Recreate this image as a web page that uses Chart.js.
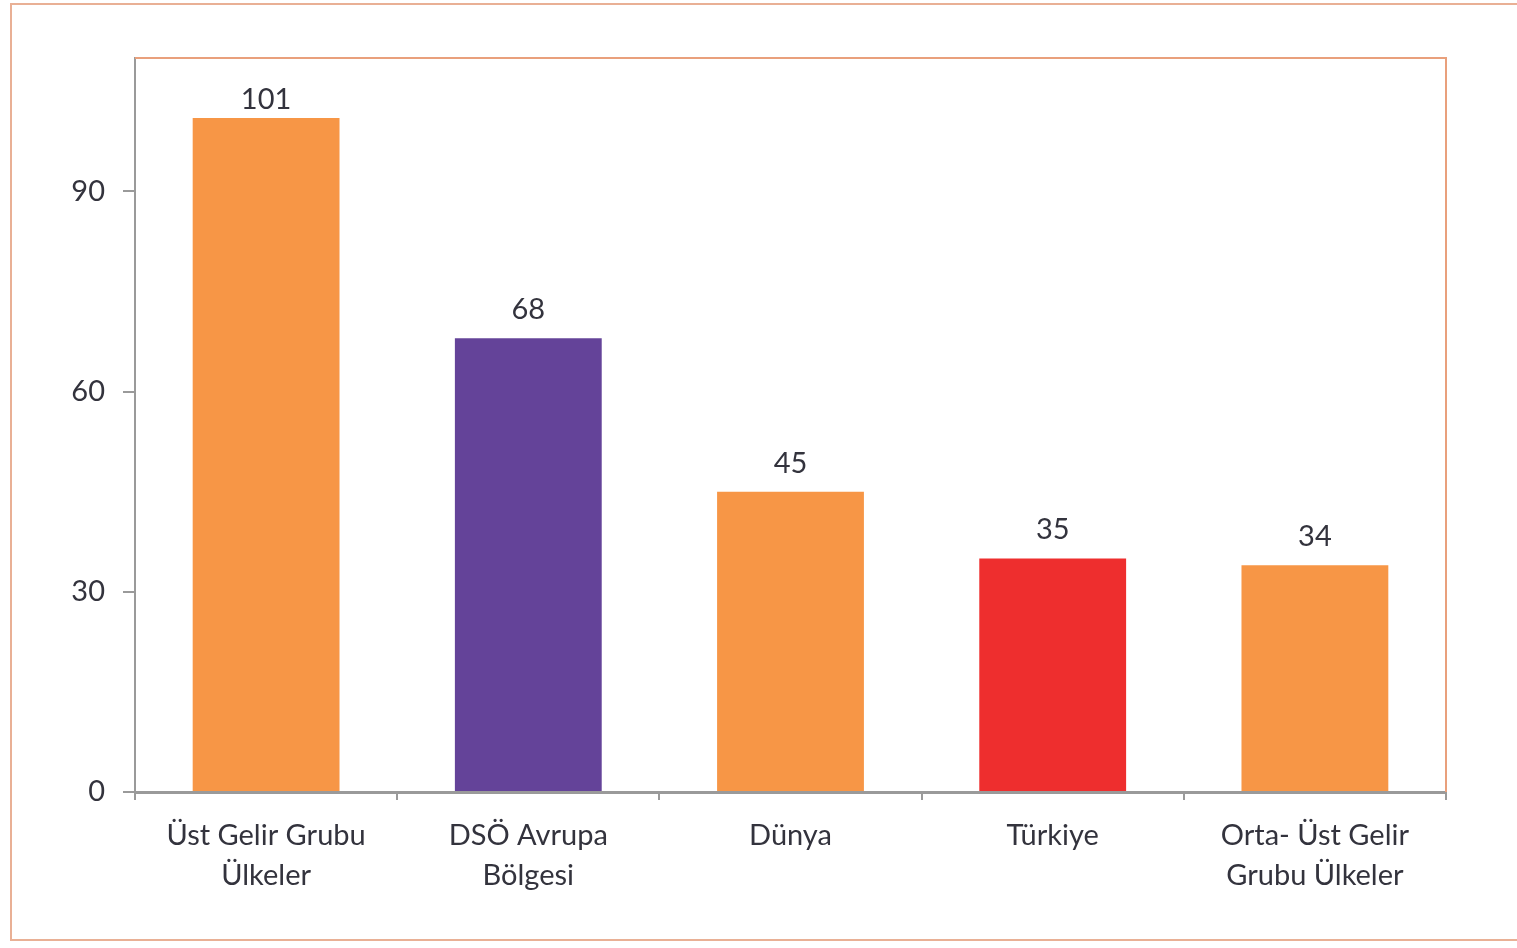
<!DOCTYPE html>
<html>
<head>
<meta charset="utf-8">
<script src="https://cdn.jsdelivr.net/npm/chart.js@4"></script>
<style>
  html, body { margin: 0; padding: 0; background: #fff; }
  #frame {
    position: absolute; left: 10px; top: 3px; width: 1530px; height: 938px;
    border: 2px solid #e9b095; box-sizing: border-box;
  }
  #wrap { position: absolute; left: 0; top: 0; width: 1517px; height: 948px; }
</style>
</head>
<body>
<div id="frame"></div>
<div id="wrap"><canvas id="chart"></canvas></div>
<script>
const categories = [
  ["Üst Gelir Grubu", "Ülkeler"],
  ["DSÖ Avrupa", "Bölgesi"],
  "Dünya",
  "Türkiye",
  ["Orta- Üst Gelir", "Grubu Ülkeler"],
];
const values = [101, 68, 45, 35, 34];
const barColors = ["#f79646", "#644399", "#f79646", "#ee2e2e", "#f79646"];
const yTicks = [0, 30, 60, 90];

const textColor = "#33333d";
const font = { family: "Lato, 'Open Sans', sans-serif", size: 29, lineHeight: 1.38 };

// number above each bar
const valueLabels = {
  id: "valueLabels",
  afterDatasetsDraw(chart) {
    const ctx = chart.ctx;
    const meta = chart.getDatasetMeta(0);
    const minBase = chart.chartArea.top + 56;
    ctx.save();
    ctx.font = `${font.size}px ${font.family}`;
    ctx.fillStyle = textColor;
    ctx.textAlign = "center";
    ctx.textBaseline = "bottom";
    meta.data.forEach((bar, i) => {
      ctx.fillText(values[i], bar.x, Math.max(bar.y - 14, minBase));
    });
    ctx.restore();
  },
};

// orange frame on top and right side of plot area
const plotFrame = {
  id: "plotFrame",
  afterDraw(chart) {
    const { ctx, chartArea: a } = chart;
    ctx.save();
    ctx.strokeStyle = "#e9a07c";
    ctx.lineWidth = 2;
    ctx.beginPath();
    ctx.moveTo(a.left, a.top);
    ctx.lineTo(a.right, a.top);
    ctx.lineTo(a.right, a.bottom);
    ctx.stroke();
    ctx.restore();
  },
};

new Chart(document.getElementById("chart"), {
  type: "bar",
  data: {
    labels: categories,
    datasets: [
      {
        data: values,
        backgroundColor: barColors,
        borderWidth: 0,
        categoryPercentage: 1,
        barPercentage: 0.56,
      },
    ],
  },
  options: {
    responsive: true,
    maintainAspectRatio: false,
    animation: false,
    layout: { padding: { left: 0, top: 58, right: 71, bottom: 0 } },
    plugins: {
      legend: { display: false },
      tooltip: { enabled: false },
    },
    scales: {
      x: {
        grid: { drawOnChartArea: false, tickLength: 8, color: "#9a9a9a", lineWidth: 2 },
        border: { color: "#9a9a9a", width: 3 },
        ticks: { color: textColor, font: font, padding: 16, maxRotation: 0 },
        afterFit(scale) { scale.height = 156; },
      },
      y: {
        min: 0,
        max: 110,
        afterBuildTicks(axis) {
          axis.ticks = yTicks.map((v) => ({ value: v }));
        },
        grid: { drawOnChartArea: false, tickLength: 12, color: "#9a9a9a", lineWidth: 2 },
        border: { color: "#9a9a9a", width: 2 },
        ticks: { color: textColor, font: font, padding: 18 },
        afterFit(scale) { scale.width = 135; },
      },
    },
  },
  plugins: [valueLabels, plotFrame],
});
</script>
</body>
</html>
